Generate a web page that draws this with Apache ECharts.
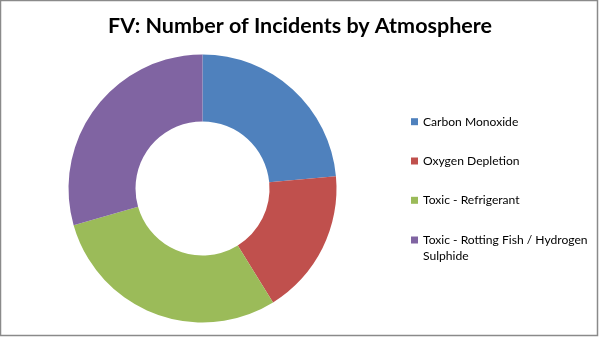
<!DOCTYPE html>
<html>
<head>
<meta charset="utf-8">
<script src="https://cdn.jsdelivr.net/npm/echarts@6/dist/echarts.min.js"></script>
<style>
html,body{margin:0;padding:0;background:#fff;}
#chart{width:600px;height:337px;}
</style>
</head>
<body>
<div id="chart"></div>
<script>
const titleText = 'FV: Number of Incidents by Atmosphere';
const categories = ['Carbon Monoxide', 'Oxygen Depletion', 'Toxic - Refrigerant', 'Toxic - Rotting Fish / Hydrogen Sulphide'];
const values = [4, 3, 5, 5];
const colors = ['#4F81BD', '#C0504D', '#9BBB59', '#8064A2'];

// legend layout (icon centre y per entry)
const legendIconY = [121.7, 161, 200.3, 240];

const chart = echarts.init(document.getElementById('chart'), null, {renderer: 'canvas'});
const baseText = {fontFamily: 'Lato', fontSize: 12.1, color: '#000', width: 195, overflow: 'break', lineHeight: 16};
const legends = categories.map((c, i) => {
  const multi = i === categories.length - 1;
  const lg = {
    orient: 'vertical',
    left: 406,
    top: multi ? legendIconY[i] - 29 : legendIconY[i] - 13,
    itemWidth: 7,
    itemHeight: 7,
    itemGap: 0,
    icon: 'rect',
    data: [c],
    textStyle: baseText
  };
  // wrapped entry: first line aligned with the marker (leading blank line keeps it centred)
  if (multi) lg.formatter = name => '\n' + name;
  return lg;
});
chart.setOption({
  backgroundColor: '#fff',
  animation: false,
  color: colors,
  title: {
    text: titleText,
    left: 'center',
    top: 10,
    textStyle: {fontFamily: 'Lato', fontWeight: 'bold', fontSize: 21.5, color: '#000'}
  },
  legend: legends,
  graphic: [{
    type: 'rect',
    shape: {x: 0.5, y: 0.5, width: 597, height: 335},
    style: {fill: null, stroke: '#8a8a8a', lineWidth: 1.5},
    silent: true
  }],
  series: [{
    type: 'pie',
    center: [202.5, 188.5],
    radius: [67, 134],
    startAngle: 90,
    clockwise: true,
    label: {show: false},
    labelLine: {show: false},
    itemStyle: {borderColor: '#fff', borderWidth: 0},
    data: categories.map((c, i) => ({name: c, value: values[i]}))
  }]
});
</script>
</body>
</html>
